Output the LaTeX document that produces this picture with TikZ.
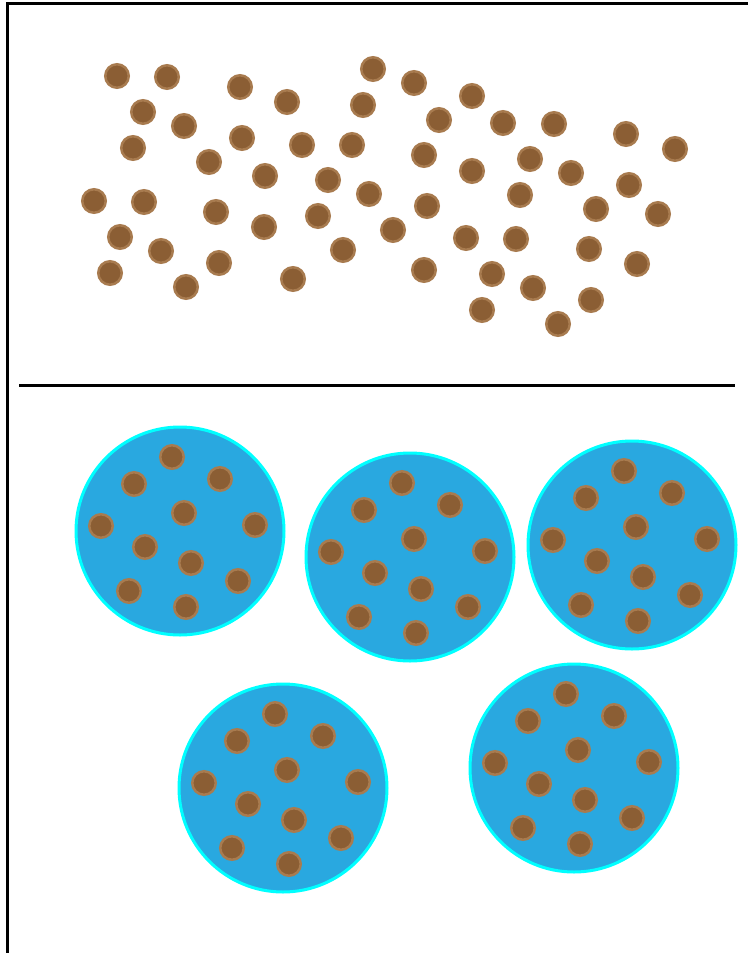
\documentclass[tikz,border=0pt]{standalone}
\begin{document}
\definecolor{dotin}{HTML}{8B5E34}
\definecolor{dotring}{HTML}{A87B4F}
\definecolor{cellfill}{HTML}{29A8E0}
\definecolor{cellrim}{HTML}{00FFFF}
\begin{tikzpicture}[x=1pt,y=-1pt,
  dot/.style={circle,inner sep=0pt,minimum size=23.5pt,fill=dotin,draw=dotring,line width=2.5pt},
  cell/.style={circle,inner sep=0pt,minimum size=208pt,fill=cellfill,draw=cellrim,line width=3pt},
  frame/.style={line width=3pt,black},
  divider/.style={line width=3pt,black}]
\useasboundingbox (0,0) rectangle (748,953);
\fill[white] (0,0) rectangle (748,953);
% frame
\coordinate (tl) at (7,3.5);
\coordinate (tr) at (748,3.5);
\coordinate (bl) at (7,953);
\draw[frame] (tr) -- (tl) -- (bl);
% divider
\coordinate (dl) at (19,385);
\coordinate (dr) at (735,385);
\draw[divider] (dl) -- (dr);
% scattered particles
\foreach \x/\y [count=\i] in {117/76,167/77,240/87,287/102,373/69,414/83,472/96,
  143/112,184/126,363/105,439/120,503/123,554/124,626/134,675/149,
  133/148,242/138,302/145,352/145,424/155,209/162,265/176,328/180,472/171,530/159,571/173,
  94/201,144/202,216/212,369/194,427/206,520/195,629/185,596/209,658/214,
  318/216,264/227,393/230,120/237,161/251,466/238,516/239,343/250,219/263,589/249,
  110/273,186/287,293/279,424/270,492/274,637/264,533/288,482/310,591/300,558/324}
  \node[dot] (t\i) at (\x,\y) {};
% cells with particles
\foreach \cx/\cy [count=\j] in {180/531,410/557,632/545,283/788,574/768}{
  \node[cell] (c\j) at (\cx,\cy) {};
  \foreach \dx/\dy [count=\i] in {-8/-74,-46/-47,40/-52,4/-18,-79/-5,75/-6,-35/16,11/32,-51/60,58/50,6/76}
    \node[dot] (c\j-\i) at ({\cx+(\dx)},{\cy+(\dy)}) {};
}
\end{tikzpicture}
\end{document}
